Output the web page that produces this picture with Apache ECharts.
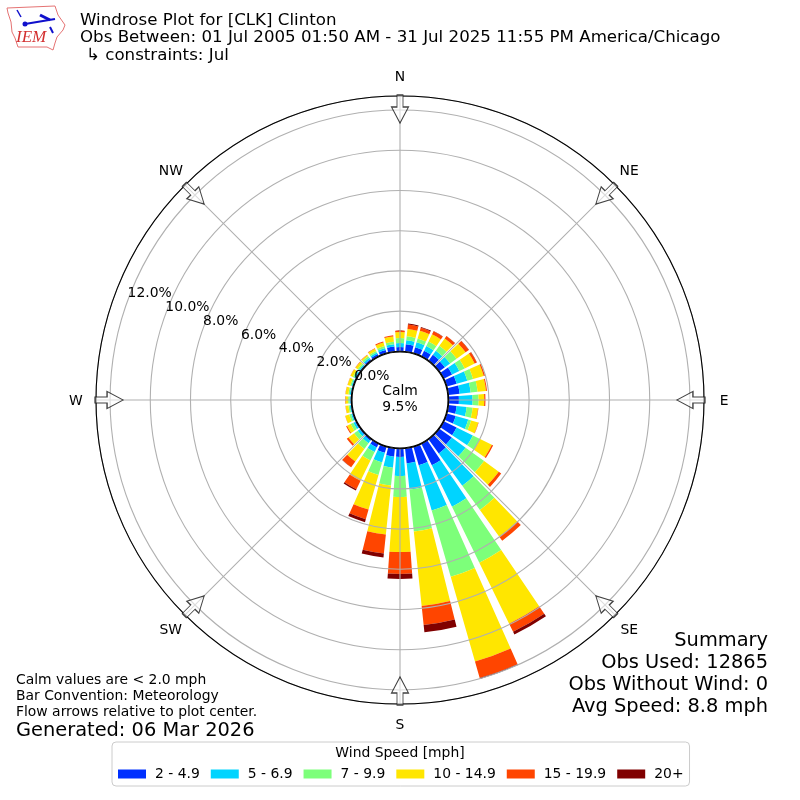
<!DOCTYPE html>
<html>
<head>
<meta charset="utf-8">
<style>html,body{margin:0;padding:0;background:#fff}#c{width:800px;height:800px}</style>
<script src="https://cdn.jsdelivr.net/npm/echarts@6/dist/echarts.min.js"></script>
</head>
<body>
<div id="c"></div>
<script>
const directions = [0,10,20,30,40,50,60,70,80,90,100,110,120,130,140,150,160,170,180,190,200,210,220,230,240,250,260,270,280,290,300,310,320,330,340,350];
const bin2to4 =  [.21,.36,.31,.31,.36,.34,.46,.51,.56,.51,.41,.46,.71,.76,.86,1.19,.95,.74,.41,.41,.31,.21,.09,.06,.06,.05,.04,.04,.04,.04,.05,.05,.09,.12,.17,.25];
const bin5to6 =  [.20,.20,.25,.25,.25,.32,.40,.55,.55,.68,.50,.65,.90,.85,1.99,2.29,2.35,1.32,.95,.55,.50,.25,.15,.12,.10,.06,.05,.05,.05,.05,.06,.06,.08,.08,.10,.12];
const bin7to9 =  [.25,.20,.20,.25,.30,.40,.30,.30,.35,.30,.30,.15,.40,1.14,1.49,3.10,3.43,2.09,1.04,.90,.65,.47,.35,.22,.15,.10,.07,.07,.07,.07,.08,.08,.10,.09,.10,.12];
const bin10to14 =[.30,.37,.40,.40,.45,.55,.55,.55,.42,.28,.27,.37,.65,.90,1.64,3.38,4.38,3.73,2.74,2.44,1.79,1.12,.77,.35,.20,.20,.14,.13,.14,.13,.13,.12,.07,.12,.18,.26];
const bin15to19 =[.07,.22,.15,.17,.15,.20,.12,.07,.05,.06,.02,.02,.07,.15,.25,.45,.85,.95,1.09,.95,.50,.47,.35,.10,.05,.01,.01,.02,.01,.01,.01,.02,.02,.03,.05,.06];
const bin20plus =[0,.05,.05,.01,.01,.01,.01,0,0,0,0,0,0,0,0,.15,.05,.37,.25,.20,.15,.07,.01,0,0,0,0,0,0,0,0,0,0,0,0,0];
const binNames = ['2 - 4.9','5 - 6.9','7 - 9.9','10 - 14.9','15 - 19.9','20+'];
const binValues = [bin2to4,bin5to6,bin7to9,bin10to14,bin15to19,bin20plus];
const binColors = ['#0030ff','#00d4ff','#7dff7a','#ffe600','#ff4500','#800000'];
const radialTicks = [0,2,4,6,8,10,12];
const compassAngles = [0,45,90,135,180,225,270,315];
const compassNames = ['N','NE','E','SE','S','SW','W','NW'];
const FONT = '"DejaVu Sans"';

const txt = (x,y,text,size,align,extra) => ({type:'text',x,y,z:20,style:Object.assign({text,fontFamily:FONT,fontSize:size,fill:'#000',textAlign:align||'left',textVerticalAlign:'middle'},extra||{})});

const series = binNames.map((name,i)=>({
  name,type:'bar',coordinateSystem:'polar',stack:'wind',barWidth:8,z:1,
  itemStyle:{color:binColors[i]},silent:true,
  data:directions.map((d,k)=>[binValues[i][k],d])
}));
series.push({
  name:'arrows',type:'scatter',coordinateSystem:'polar',clip:false,z:6,silent:true,
  symbol:'path://M5.5,0 L11.5,0 L11.5,12 L17,12 L8.5,28 L0,12 L5.5,12 Z',symbolSize:[17,28],
  itemStyle:{color:'rgba(255,255,255,0.7)',borderColor:'#111',borderWidth:1.1},
  data:compassAngles.map(a=>({value:[12.05,a],symbolRotate:-a}))
});
series.push({
  name:'compass',type:'scatter',coordinateSystem:'polar',clip:false,z:7,silent:true,symbolSize:0.01,
  itemStyle:{color:'#fff',opacity:1},
  label:{show:true,position:'inside',offset:[0,1],opacity:1,fontFamily:FONT,fontSize:13.9,color:'#000',textBorderWidth:0,textBorderColor:'transparent',formatter:p=>compassNames[p.dataIndex]},
  data:compassAngles.map(a=>[13.7,a])
});
series.push({
  name:'radial',type:'scatter',coordinateSystem:'polar',clip:false,z:9,silent:true,symbolSize:0.01,
  itemStyle:{color:'#fff',opacity:1},
  label:{show:true,position:'right',distance:0,offset:[0,-7],opacity:1,fontFamily:FONT,fontSize:13.9,color:'#000',textBorderWidth:0,textBorderColor:'transparent',formatter:p=>radialTicks[p.dataIndex].toFixed(1)+'%'},
  data:radialTicks.map(v=>[v,290])
});

const chart = echarts.init(document.getElementById('c'),null,{renderer:'canvas'});
chart.setOption({
  animation:false,backgroundColor:'#fff',
  polar:{center:['50%','50%'],radius:[48.7,304]},
  angleAxis:{type:'value',min:0,max:360,interval:45,startAngle:90,clockwise:true,z:4,
    axisLine:{show:true,lineStyle:{color:'#000',width:1.1}},axisTick:{show:false},axisLabel:{show:false},
    splitLine:{show:true,lineStyle:{color:'#b0b0b0',width:1.1}}},
  radiusAxis:{type:'value',min:0,max:12.7,interval:2,z:3,
    axisLine:{show:false},axisTick:{show:false},axisLabel:{show:false},
    splitLine:{show:true,lineStyle:{color:'#b0b0b0',width:1.1}}},
  legend:{data:binNames,left:112,top:742,orient:'horizontal',icon:'rect',itemWidth:28,itemHeight:9,itemGap:11,
    padding:[25,6,5,6],borderColor:'#ccc',borderWidth:1,borderRadius:4,backgroundColor:'#fff',selectedMode:false,
    textStyle:{fontFamily:FONT,fontSize:13.9,color:'#000',padding:[0,0,0,4]}},
  series,
  graphic:[
    {type:'circle',shape:{cx:400,cy:400,r:48},z:8,style:{fill:'#fff',stroke:'#000',lineWidth:1.1}},
    txt(400,391,'Calm',13.9,'center'),
    txt(400,407,'9.5%',13.9,'center'),
    txt(80,21,'Windrose Plot for [CLK] Clinton',16.67),
    txt(80,38,'Obs Between: 01 Jul 2005 01:50 AM - 31 Jul 2025 11:55 PM America/Chicago',16.67),
    txt(86,56,'↳ constraints: Jul',16.67),
    txt(16,680,'Calm values are < 2.0 mph',13.9),
    txt(16,696,'Bar Convention: Meteorology',13.9),
    txt(16,712,'Flow arrows relative to plot center.',13.9),
    txt(16,731,'Generated: 06 Mar 2026',19.4),
    txt(768,641,'Summary',19.4,'right'),
    txt(768,663,'Obs Used: 12865',19.4,'right'),
    txt(768,685,'Obs Without Wind: 0',19.4,'right'),
    txt(768,707,'Avg Speed: 8.8 mph',19.4,'right'),
    txt(400,753,'Wind Speed [mph]',13.9,'center'),
    {type:'polygon',z:20,shape:{points:[[7,8],[55,6],[57,12],[58,15],[65,25],[63,30],[57,37],[55,43],[53,50],[47,47],[18,47],[15,38],[12,32],[11,22],[8,13]]},style:{fill:'#fff',stroke:'#e57373',lineWidth:1}},
    {type:'polyline',z:21,shape:{points:[[25,24],[55,19]]},style:{stroke:'#1010cc',lineWidth:2,fill:null}},
    {type:'polyline',z:21,shape:{points:[[17,10],[21,17]]},style:{stroke:'#1010cc',lineWidth:1.5,fill:null}},
    {type:'polyline',z:21,shape:{points:[[40,15],[50,20]]},style:{stroke:'#1010cc',lineWidth:3,fill:null}},
    {type:'circle',z:21,shape:{cx:25,cy:24,r:2.5},style:{fill:'#1010cc'}},
    {type:'polyline',z:21,shape:{points:[[50,27],[53,33]]},style:{stroke:'#1010cc',lineWidth:2,fill:null}},
    txt(16,38,'IEM',17,'left',{fontFamily:'"Liberation Serif"',fontStyle:'italic',fill:'#d32f2f'})
  ]
});
</script>
</body>
</html>
